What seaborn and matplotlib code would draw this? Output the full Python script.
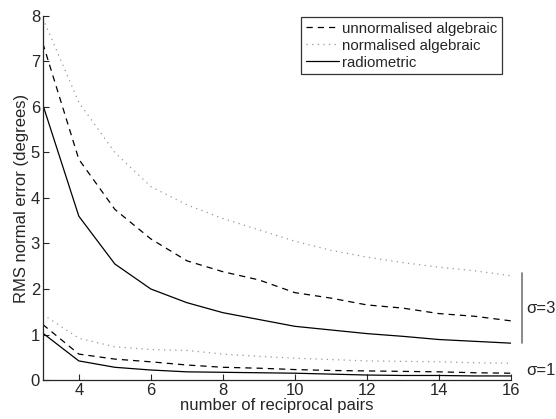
import seaborn as sns
import pandas as pd
import matplotlib.pyplot as plt

# number of reciprocal pairs
pairs = [3, 4, 5, 6, 7, 8, 9, 10, 11, 12, 13, 14, 15, 16]

# sigma = 3
unnorm_s3 = [7.4, 4.85, 3.75, 3.1, 2.62, 2.38, 2.2, 1.92, 1.8, 1.65, 1.58, 1.46, 1.4, 1.3]
norm_s3 = [7.95, 6.1, 5.0, 4.25, 3.85, 3.55, 3.3, 3.05, 2.85, 2.7, 2.58, 2.48, 2.4, 2.29]
radio_s3 = [6.05, 3.6, 2.55, 2.0, 1.7, 1.48, 1.33, 1.18, 1.1, 1.02, 0.96, 0.89, 0.85, 0.81]

# sigma = 1
unnorm_s1 = [1.22, 0.57, 0.46, 0.4, 0.33, 0.28, 0.26, 0.23, 0.21, 0.2, 0.19, 0.18, 0.16, 0.15]
norm_s1 = [1.44, 0.92, 0.73, 0.67, 0.65, 0.57, 0.52, 0.48, 0.45, 0.42, 0.41, 0.4, 0.38, 0.37]
radio_s1 = [1.03, 0.42, 0.28, 0.22, 0.18, 0.17, 0.16, 0.15, 0.13, 0.11, 0.1, 0.1, 0.09, 0.09]

methods = ["unnormalised algebraic", "normalised algebraic", "radiometric"]

sns.set_style("ticks")
plt.rcParams['font.family'] = ['Liberation Sans', 'DejaVu Sans']
plt.rcParams['xtick.direction'] = 'in'
plt.rcParams['ytick.direction'] = 'in'

fig = plt.figure(figsize=(5.56, 4.19), dpi=100)
ax = fig.add_axes([0.077, 0.093, 0.842, 0.869])

styles = {
    "unnormalised algebraic": dict(color="black", linestyle=(0, (5, 4))),
    "normalised algebraic": dict(color="#999999", linestyle=(0, (1, 3.5))),
    "radiometric": dict(color="black", linestyle="-"),
}

series_s3 = dict(zip(methods, [unnorm_s3, norm_s3, radio_s3]))
series_s1 = dict(zip(methods, [unnorm_s1, norm_s1, radio_s1]))

for m in methods:
    df = pd.DataFrame({"pairs": pairs, "err": series_s3[m]})
    sns.lineplot(data=df, x="pairs", y="err", ax=ax, label=m, linewidth=0.9, **styles[m])
for m in methods:
    df = pd.DataFrame({"pairs": pairs, "err": series_s1[m]})
    sns.lineplot(data=df, x="pairs", y="err", ax=ax, legend=False, linewidth=0.9, **styles[m])

ax.set_xlim(3, 16)
ax.set_ylim(0, 8)
ax.set_xticks([4, 6, 8, 10, 12, 14, 16])
ax.set_yticks(range(0, 9))
ax.tick_params(labelsize=12, length=4, width=0.8, pad=2)
ax.set_xlabel("number of reciprocal pairs", fontsize=12, labelpad=0)
ax.set_ylabel("RMS normal error (degrees)", fontsize=12, labelpad=1)
sns.despine(ax=ax)
for s in ["left", "bottom"]:
    ax.spines[s].set_linewidth(0.9)

leg = ax.legend(loc="upper right", bbox_to_anchor=(0.981, 0.997), fontsize=10.8,
                frameon=True, fancybox=False, handlelength=2.2, handletextpad=0.25,
                labelspacing=0.2, borderpad=0.3, borderaxespad=0)
leg.get_frame().set_edgecolor("black")
leg.get_frame().set_linewidth(0.9)

# sigma annotations
ax.plot([16.3, 16.3], [0.81, 2.35], color="#777777", linewidth=1.2, clip_on=False)
ax.text(16.42, 1.58, "σ=3", fontsize=12, va="center", ha="left")
ax.text(16.42, 0.2, "σ=1", fontsize=12, va="center", ha="left")

fig.savefig("out.png", dpi=100)
